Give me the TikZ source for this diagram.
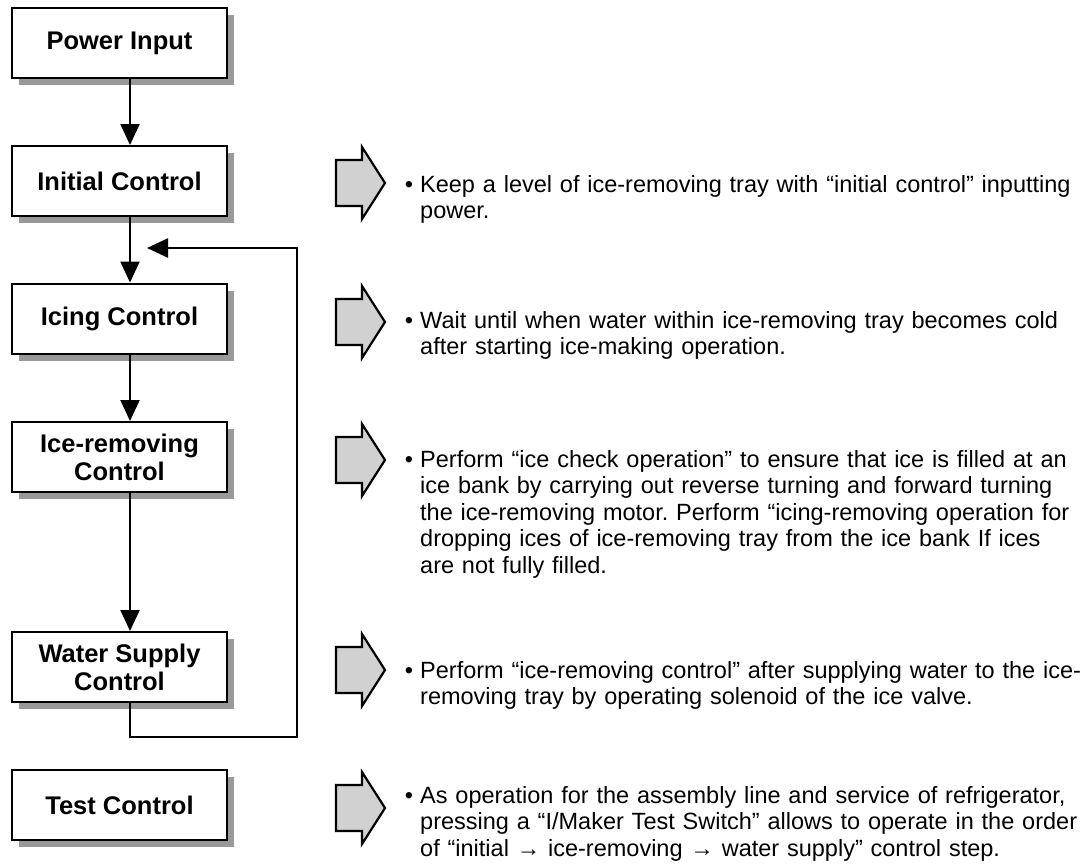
\documentclass[tikz,border=0pt]{standalone}
\usepackage{fontspec}
\setmainfont{Liberation Sans}
\newfontfamily\descfont{Liberation Sans}
\newfontfamily\ctrlfont{Liberation Sans}
\usetikzlibrary{arrows.meta,shadows}
\frenchspacing

\begin{document}
\begin{tikzpicture}[x=1pt,y=-1pt,
  ctrl/.style={draw,line width=2pt,fill=white,minimum width=215pt,minimum height=70pt,inner sep=2pt,align=center,
    font=\ctrlfont\bfseries\fontsize{25.5}{28}\selectfont,
    drop shadow={shadow xshift=7pt,shadow yshift=-7pt,fill=black!40,opacity=1}},
  flow/.style={line width=2.2pt,-{Triangle[length=21pt,width=19pt]}},
  blk/.style={draw,line width=2.2pt,fill=black!18,line join=miter},
  desc/.style={anchor=base west,align=left,text width=700pt,inner sep=0pt,
    font=\descfont\fontsize{23.5}{26.5}\selectfont}]
\useasboundingbox (0,0) rectangle (1089,863);
\node[ctrl] (pwr) at (119.5,43) {Power Input};
\node[ctrl] (init) at (119.5,181) {Initial Control};
\node[ctrl] (icing) at (119.5,318.5) {Icing Control};
\node[ctrl] (rmv) at (119.5,457) {Ice-removing\\Control};
\node[ctrl] (water) at (119.5,667) {Water Supply\\Control};
\node[ctrl] (test) at (119.5,805) {Test Control};
\foreach \a/\b in {pwr/init,init/icing,icing/rmv,rmv/water}
  \draw[flow] ([xshift=10.5pt]\a.south) -- ([xshift=10.5pt]\b.north);
\coordinate (lp1) at (130,737);
\coordinate (lp2) at (297,737);
\coordinate (lp3) at (297,248);
\coordinate (lpend) at (147,248);
\draw[flow] ([xshift=10.5pt]water.south) -- (lp1) -- (lp2) -- (lp3) -- (lpend);
\foreach \y in {183,322,460,670,808}
  \draw[blk] (336,\y-23) -- (362,\y-23) -- (362,\y-36) -- (385,\y) -- (362,\y+36) -- (362,\y+23) -- (336,\y+23) -- cycle;
\node[desc] (d1) at (420,192) {\llap{•\hspace{7pt}}Keep a level of ice-removing tray with “initial control” inputting\\power.};
\node[desc] (d2) at (420,328) {\llap{•\hspace{7pt}}Wait until when water within ice-removing tray becomes cold\\after starting ice-making operation.};
\node[desc] (d3) at (420,467) {\llap{•\hspace{7pt}}Perform “ice check operation” to ensure that ice is filled at an\\ice bank by carrying out reverse turning and forward turning\\the ice-removing motor. Perform “icing-removing operation for\\dropping ices of ice-removing tray from the ice bank If ices\\are not fully filled.};
\node[desc] (d4) at (420,678) {\llap{•\hspace{7pt}}Perform “ice-removing control” after supplying water to the ice-\\removing tray by operating solenoid of the ice valve.};
\node[desc] (d5) at (420,803) {\llap{•\hspace{7pt}}As operation for the assembly line and service of refrigerator,\\pressing a “I/Maker Test Switch” allows to operate in the order\\of “initial → ice-removing → water supply” control step.};
\end{tikzpicture}
\end{document}
